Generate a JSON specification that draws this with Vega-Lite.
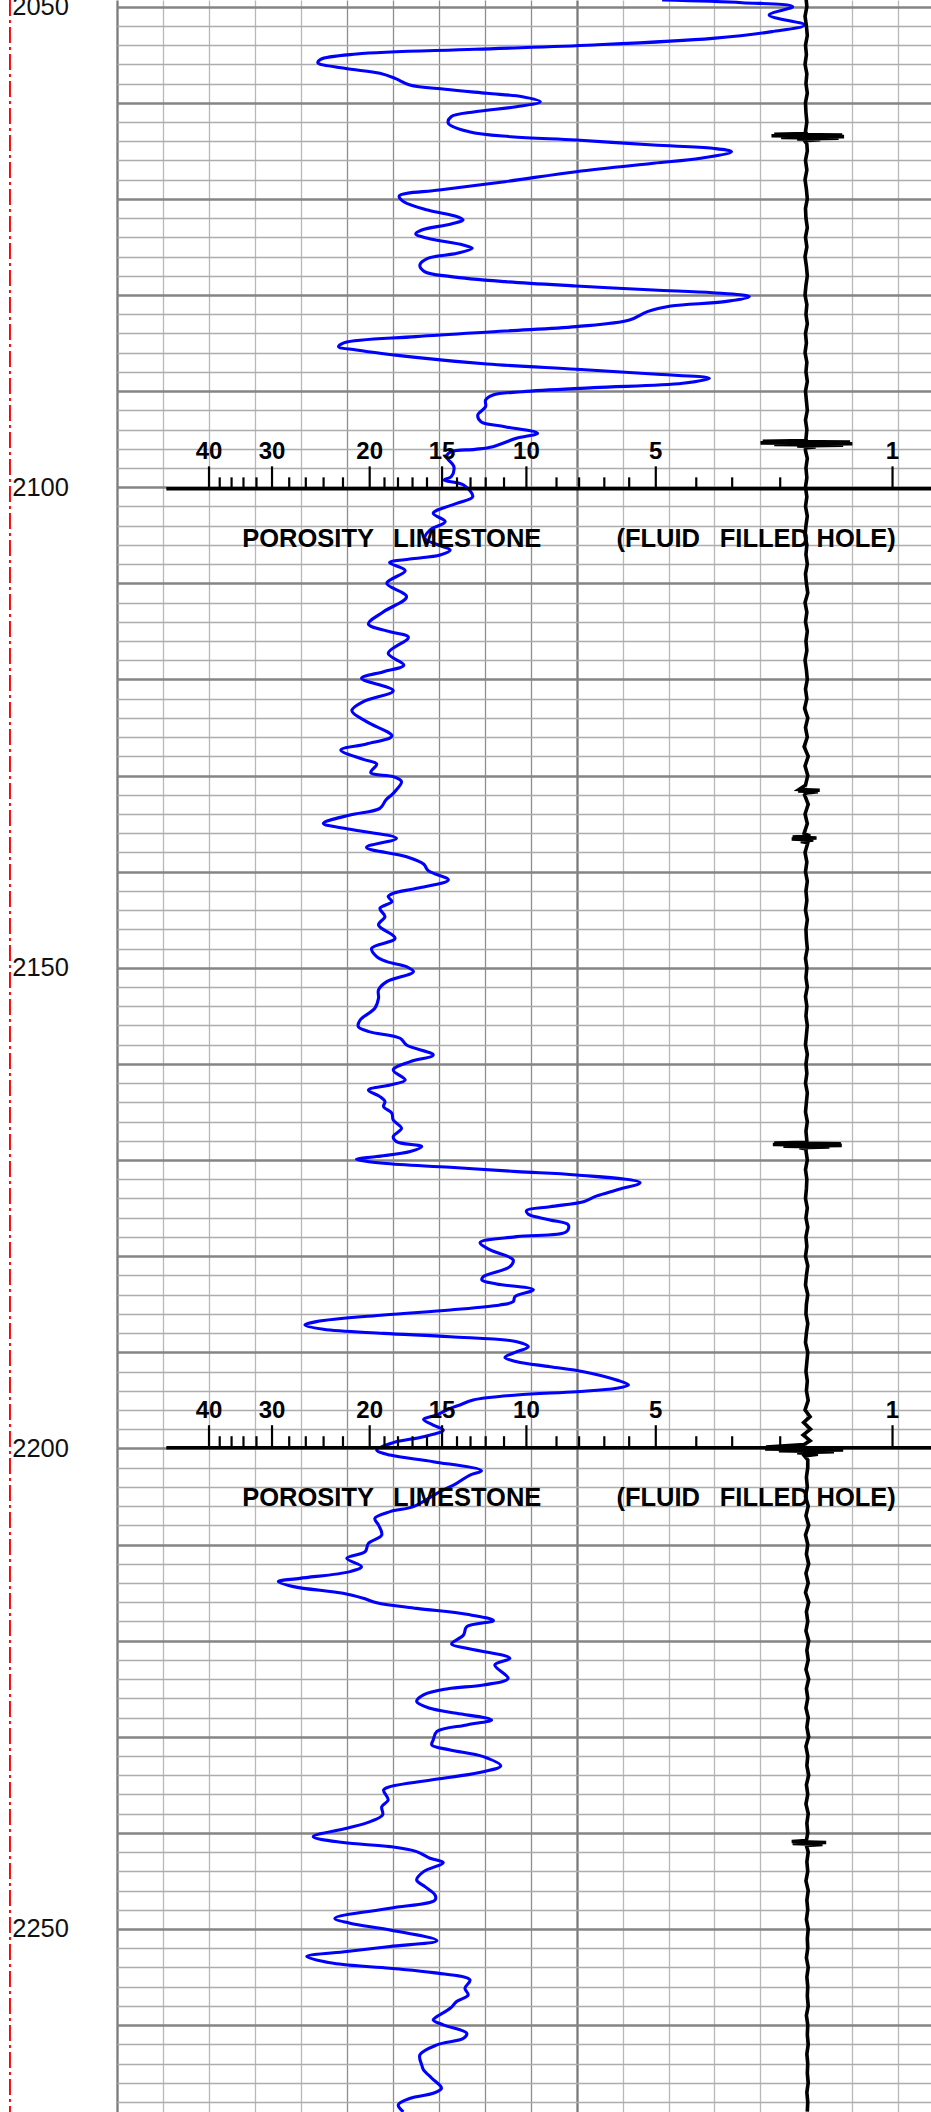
{
"$schema": "https://vega.github.io/schema/vega-lite/v6.json",
"autosize": "none",
"padding": {"left": 117, "top": 0, "right": 0, "bottom": 0},
"width": 814,
"height": 2112,
"background": "white",
"config": {"view": {"stroke": null}},
"datasets": {
"blue": [
{"d":2049.31,"u":11.86},{"d":2049.59,"u":13.60},{"d":2050.00,"u":14.70},{"d":2050.87,"u":14.19},{"d":2051.91,"u":14.96},{"d":2052.60,"u":14.25},{"d":2053.30,"u":12.96},{"d":2053.99,"u":10.37},{"d":2054.44,"u":7.79},{"d":2054.93,"u":5.21},{"d":2055.48,"u":4.43},{"d":2055.83,"u":4.37},{"d":2056.42,"u":4.95},{"d":2056.94,"u":5.72},{"d":2057.46,"u":6.05},{"d":2058.15,"u":6.37},{"d":2058.60,"u":7.14},{"d":2059.02,"u":8.05},{"d":2059.37,"u":8.82},{"d":2059.89,"u":9.21},{"d":2060.41,"u":8.69},{"d":2060.93,"u":7.79},{"d":2061.45,"u":7.27},{"d":2062.14,"u":7.21},{"d":2063.01,"u":7.66},{"d":2063.53,"u":8.57},{"d":2063.88,"u":9.99},{"d":2064.40,"u":11.67},{"d":2064.74,"u":12.96},{"d":2065.09,"u":13.37},{"d":2065.78,"u":12.70},{"d":2066.30,"u":11.67},{"d":2067.17,"u":9.99},{"d":2068.21,"u":8.44},{"d":2069.08,"u":7.01},{"d":2069.70,"u":6.14},{"d":2070.29,"u":6.24},{"d":2071.16,"u":6.76},{"d":2071.85,"u":7.40},{"d":2072.20,"u":7.53},{"d":2072.61,"u":7.27},{"d":2073.24,"u":6.63},{"d":2073.65,"u":6.50},{"d":2074.10,"u":6.76},{"d":2074.80,"u":7.53},{"d":2075.14,"u":7.73},{"d":2075.67,"u":7.40},{"d":2076.19,"u":6.76},{"d":2076.88,"u":6.59},{"d":2077.57,"u":6.69},{"d":2078.09,"u":7.27},{"d":2078.61,"u":8.44},{"d":2079.06,"u":9.99},{"d":2079.48,"u":11.67},{"d":2079.76,"u":12.96},{"d":2080.17,"u":13.76},{"d":2080.69,"u":13.22},{"d":2081.15,"u":12.05},{"d":2081.73,"u":11.54},{"d":2082.60,"u":11.15},{"d":2083.29,"u":9.99},{"d":2083.75,"u":8.44},{"d":2084.33,"u":6.50},{"d":2084.96,"u":4.95},{"d":2085.38,"u":4.82},{"d":2085.72,"u":5.21},{"d":2086.49,"u":6.50},{"d":2087.18,"u":8.05},{"d":2087.73,"u":9.99},{"d":2088.22,"u":11.67},{"d":2088.67,"u":12.89},{"d":2089.19,"u":12.31},{"d":2089.64,"u":10.37},{"d":2090.06,"u":8.82},{"d":2090.40,"u":8.18},{"d":2090.93,"u":8.02},{"d":2091.62,"u":8.02},{"d":2092.49,"u":7.85},{"d":2093.18,"u":7.92},{"d":2093.70,"u":8.44},{"d":2094.39,"u":9.15},{"d":2094.91,"u":8.69},{"d":2095.78,"u":8.18},{"d":2096.06,"u":7.79},{"d":2096.30,"u":7.27},{"d":2096.82,"u":7.17},{"d":2097.86,"u":7.33},{"d":2098.90,"u":7.27},{"d":2099.25,"u":7.12},{"d":2099.77,"u":7.54},{"d":2100.98,"u":7.74},{"d":2101.68,"u":7.39},{"d":2102.72,"u":6.88},{"d":2103.58,"u":7.14},{"d":2104.45,"u":6.81},{"d":2105.32,"u":6.70},{"d":2106.01,"u":6.99},{"d":2106.53,"u":7.25},{"d":2107.05,"u":7.03},{"d":2107.47,"u":6.37},{"d":2107.85,"u":5.93},{"d":2108.68,"u":6.27},{"d":2110.00,"u":5.87},{"d":2111.39,"u":6.30},{"d":2112.95,"u":5.80},{"d":2114.23,"u":5.47},{"d":2115.03,"u":5.94},{"d":2115.62,"u":6.34},{"d":2117.28,"u":5.90},{"d":2118.50,"u":6.24},{"d":2119.19,"u":5.80},{"d":2119.88,"u":5.32},{"d":2121.17,"u":6.01},{"d":2122.31,"u":5.36},{"d":2123.25,"u":5.11},{"d":2124.39,"u":5.43},{"d":2125.88,"u":5.98},{"d":2126.72,"u":5.43},{"d":2127.34,"u":4.87},{"d":2128.31,"u":5.36},{"d":2128.80,"u":5.65},{"d":2129.70,"u":5.52},{"d":2130.11,"u":6.01},{"d":2130.63,"u":6.19},{"d":2131.85,"u":6.01},{"d":2132.54,"u":5.85},{"d":2133.41,"u":5.72},{"d":2134.10,"u":5.07},{"d":2134.97,"u":4.49},{"d":2135.59,"u":5.07},{"d":2136.53,"u":6.08},{"d":2137.47,"u":5.43},{"d":2138.44,"u":6.30},{"d":2139.20,"u":6.67},{"d":2139.89,"u":6.77},{"d":2140.86,"u":7.21},{"d":2141.73,"u":6.52},{"d":2142.25,"u":6.01},{"d":2142.59,"u":5.90},{"d":2143.11,"u":5.98},{"d":2143.81,"u":5.72},{"d":2144.67,"u":5.83},{"d":2145.54,"u":5.69},{"d":2146.93,"u":6.05},{"d":2147.97,"u":5.54},{"d":2148.84,"u":5.65},{"d":2149.36,"u":5.87},{"d":2149.88,"u":6.30},{"d":2150.40,"u":6.45},{"d":2151.44,"u":5.87},{"d":2152.30,"u":5.69},{"d":2153.17,"u":5.69},{"d":2154.21,"u":5.61},{"d":2155.43,"u":5.29},{"d":2156.12,"u":5.25},{"d":2156.64,"u":5.48},{"d":2157.33,"u":6.16},{"d":2158.03,"u":6.30},{"d":2159.07,"u":6.88},{"d":2159.76,"u":6.38},{"d":2160.63,"u":6.01},{"d":2161.67,"u":6.27},{"d":2162.19,"u":5.94},{"d":2162.71,"u":5.47},{"d":2163.40,"u":5.72},{"d":2163.92,"u":5.83},{"d":2164.44,"u":5.80},{"d":2165.13,"u":5.98},{"d":2165.83,"u":6.01},{"d":2166.70,"u":6.19},{"d":2167.56,"u":6.01},{"d":2168.08,"u":6.08},{"d":2168.60,"u":6.63},{"d":2169.12,"u":6.38},{"d":2169.64,"u":5.65},{"d":2169.92,"u":5.21},{"d":2170.34,"u":5.80},{"d":2170.75,"u":7.25},{"d":2171.20,"u":8.70},{"d":2171.55,"u":10.00},{"d":2172.35,"u":11.38},{"d":2173.11,"u":10.87},{"d":2173.73,"u":10.44},{"d":2174.33,"u":10.15},{"d":2174.85,"u":9.42},{"d":2175.26,"u":8.91},{"d":2175.64,"u":8.95},{"d":2176.23,"u":9.42},{"d":2176.75,"u":9.82},{"d":2177.45,"u":9.78},{"d":2177.97,"u":8.70},{"d":2178.59,"u":7.90},{"d":2179.35,"u":8.12},{"d":2180.39,"u":8.62},{"d":2181.09,"u":8.55},{"d":2182.13,"u":7.97},{"d":2182.48,"u":7.94},{"d":2182.89,"u":8.26},{"d":2183.50,"u":9.06},{"d":2184.21,"u":8.66},{"d":2184.73,"u":8.62},{"d":2185.08,"u":8.33},{"d":2185.60,"u":7.25},{"d":2186.12,"u":5.80},{"d":2186.81,"u":4.34},{"d":2187.16,"u":4.09},{"d":2187.61,"u":4.49},{"d":2188.03,"u":5.80},{"d":2188.38,"u":7.25},{"d":2188.90,"u":8.70},{"d":2189.42,"u":8.95},{"d":2189.94,"u":8.70},{"d":2190.53,"u":8.44},{"d":2190.98,"u":8.70},{"d":2191.50,"u":9.42},{"d":2192.02,"u":10.15},{"d":2192.88,"u":10.87},{"d":2193.40,"u":11.13},{"d":2193.75,"u":10.87},{"d":2194.10,"u":10.00},{"d":2194.44,"u":8.70},{"d":2194.96,"u":7.75},{"d":2195.48,"u":7.46},{"d":2195.83,"u":7.25},{"d":2196.52,"u":6.96},{"d":2196.98,"u":6.67},{"d":2197.57,"u":6.88},{"d":2198.09,"u":7.10},{"d":2198.78,"u":6.67},{"d":2199.40,"u":6.01},{"d":2200.17,"u":5.65},{"d":2200.69,"u":5.94},{"d":2201.38,"u":6.88},{"d":2202.32,"u":7.93},{"d":2202.77,"u":7.68},{"d":2203.63,"u":7.39},{"d":2204.67,"u":6.96},{"d":2206.06,"u":6.45},{"d":2206.58,"u":5.94},{"d":2207.28,"u":5.61},{"d":2207.97,"u":5.69},{"d":2209.01,"u":5.76},{"d":2209.88,"u":5.47},{"d":2210.74,"u":5.40},{"d":2211.44,"u":5.00},{"d":2212.30,"u":5.32},{"d":2212.82,"u":5.07},{"d":2213.52,"u":3.98},{"d":2213.86,"u":3.51},{"d":2214.38,"u":3.84},{"d":2215.08,"u":4.92},{"d":2215.60,"u":5.36},{"d":2216.05,"u":5.65},{"d":2216.64,"u":6.52},{"d":2217.26,"u":7.61},{"d":2217.92,"u":8.19},{"d":2218.55,"u":7.61},{"d":2219.41,"u":7.54},{"d":2220.35,"u":7.28},{"d":2220.80,"u":7.61},{"d":2221.84,"u":8.55},{"d":2222.53,"u":8.22},{"d":2223.92,"u":8.51},{"d":2224.61,"u":7.97},{"d":2225.00,"u":7.20},{"d":2225.65,"u":6.67},{"d":2226.34,"u":6.52},{"d":2227.04,"u":6.81},{"d":2227.56,"u":7.39},{"d":2228.25,"u":8.15},{"d":2228.77,"u":7.61},{"d":2229.46,"u":6.96},{"d":2230.33,"u":6.88},{"d":2230.85,"u":6.85},{"d":2231.37,"u":7.25},{"d":2232.07,"u":7.97},{"d":2233.04,"u":8.35},{"d":2233.63,"u":7.97},{"d":2234.22,"u":7.25},{"d":2235.19,"u":5.94},{"d":2235.53,"u":5.80},{"d":2236.57,"u":5.90},{"d":2237.27,"u":5.76},{"d":2238.13,"u":5.78},{"d":2238.83,"u":5.51},{"d":2239.52,"u":5.00},{"d":2240.39,"u":4.27},{"d":2241.01,"u":4.92},{"d":2241.43,"u":5.94},{"d":2241.95,"u":6.52},{"d":2242.64,"u":6.81},{"d":2243.09,"u":7.10},{"d":2244.03,"u":6.67},{"d":2244.90,"u":6.52},{"d":2245.59,"u":6.70},{"d":2246.46,"u":6.92},{"d":2246.98,"u":6.92},{"d":2247.84,"u":5.94},{"d":2248.89,"u":4.74},{"d":2249.40,"u":5.07},{"d":2250.10,"u":5.94},{"d":2251.21,"u":6.96},{"d":2251.83,"u":5.94},{"d":2252.35,"u":5.00},{"d":2252.87,"u":4.13},{"d":2253.57,"u":4.71},{"d":2254.09,"u":5.94},{"d":2254.54,"u":6.88},{"d":2255.30,"u":7.68},{"d":2256.17,"u":7.57},{"d":2256.86,"u":7.64},{"d":2257.55,"u":7.39},{"d":2258.25,"u":7.25},{"d":2259.11,"u":6.96},{"d":2259.46,"u":6.88},{"d":2259.98,"u":7.10},{"d":2260.85,"u":7.61},{"d":2261.37,"u":7.54},{"d":2262.06,"u":6.96},{"d":2263.10,"u":6.59},{"d":2264.14,"u":6.63},{"d":2264.66,"u":6.67},{"d":2265.53,"u":6.85},{"d":2266.57,"u":7.06},{"d":2267.09,"u":6.88},{"d":2267.61,"u":6.38},{"d":2268.30,"u":6.12},{"d":2269.03,"u":6.23}
],
"black": [
{"d":2049,"u":14.99},{"d":2050,"u":15.01},{"d":2051,"u":14.97},{"d":2052,"u":15.00},{"d":2053,"u":15.02},{"d":2054,"u":14.98},{"d":2055,"u":15.00},{"d":2056,"u":14.97},{"d":2057,"u":15.01},{"d":2058,"u":14.99},{"d":2059,"u":15.02},{"d":2060,"u":14.98},{"d":2061,"u":14.99},{"d":2062,"u":15.01},{"d":2063,"u":14.98},{"d":2063.2,"u":15.00},{"d":2063.28,"u":14.30},{"d":2063.36,"u":15.78},{"d":2063.44,"u":14.24},{"d":2063.52,"u":15.82},{"d":2063.6,"u":14.45},{"d":2063.68,"u":15.70},{"d":2063.76,"u":14.80},{"d":2063.85,"u":15.30},{"d":2063.95,"u":14.96},{"d":2064.3,"u":15.01},{"d":2065,"u":15.02},{"d":2066,"u":14.98},{"d":2067,"u":15.01},{"d":2068,"u":14.97},{"d":2069,"u":15.00},{"d":2070,"u":15.02},{"d":2071,"u":14.98},{"d":2072,"u":14.99},{"d":2073,"u":15.02},{"d":2074,"u":14.98},{"d":2075,"u":15.01},{"d":2076,"u":14.97},{"d":2077,"u":15.00},{"d":2078,"u":15.02},{"d":2079,"u":14.99},{"d":2080,"u":14.97},{"d":2081,"u":15.01},{"d":2082,"u":14.99},{"d":2083,"u":15.02},{"d":2084,"u":14.98},{"d":2085,"u":15.00},{"d":2086,"u":14.97},{"d":2087,"u":15.01},{"d":2088,"u":14.99},{"d":2089,"u":15.02},{"d":2090,"u":14.98},{"d":2091,"u":15.00},{"d":2092,"u":15.02},{"d":2093,"u":14.98},{"d":2094,"u":15.01},{"d":2095,"u":14.99},{"d":2095.15,"u":15.00},{"d":2095.23,"u":14.05},{"d":2095.31,"u":15.95},{"d":2095.39,"u":14.00},{"d":2095.47,"u":16.00},{"d":2095.55,"u":14.30},{"d":2095.63,"u":15.80},{"d":2095.71,"u":14.80},{"d":2095.8,"u":15.20},{"d":2095.9,"u":14.98},{"d":2096.2,"u":14.98},{"d":2097,"u":15.02},{"d":2098,"u":14.99},{"d":2099,"u":15.01},{"d":2100,"u":14.98},{"d":2101,"u":15.01},{"d":2102,"u":14.98},{"d":2103,"u":15.02},{"d":2104,"u":14.99},{"d":2105,"u":14.97},{"d":2106,"u":15.01},{"d":2107,"u":14.99},{"d":2108,"u":15.02},{"d":2109,"u":14.98},{"d":2110,"u":15.00},{"d":2111,"u":15.03},{"d":2112,"u":14.97},{"d":2113,"u":15.01},{"d":2114,"u":14.98},{"d":2115,"u":15.02},{"d":2116,"u":14.99},{"d":2117,"u":15.01},{"d":2118,"u":14.97},{"d":2119,"u":15.00},{"d":2120,"u":15.02},{"d":2121,"u":14.98},{"d":2122,"u":15.01},{"d":2123,"u":14.96},{"d":2124,"u":15.03},{"d":2125,"u":14.98},{"d":2126,"u":15.02},{"d":2127,"u":14.95},{"d":2128,"u":15.04},{"d":2129,"u":14.97},{"d":2130,"u":15.03},{"d":2131,"u":14.98},{"d":2131.45,"u":14.84},{"d":2131.53,"u":15.29},{"d":2131.61,"u":14.82},{"d":2131.69,"u":15.25},{"d":2131.8,"u":15.00},{"d":2132,"u":14.96},{"d":2133,"u":15.04},{"d":2134,"u":14.97},{"d":2135,"u":15.02},{"d":2136,"u":14.95},{"d":2136.3,"u":15.08},{"d":2136.4,"u":14.70},{"d":2136.5,"u":15.22},{"d":2136.6,"u":14.68},{"d":2136.7,"u":15.15},{"d":2136.85,"u":14.88},{"d":2137,"u":15.03},{"d":2138,"u":14.97},{"d":2139,"u":15.01},{"d":2140,"u":14.98},{"d":2141,"u":15.02},{"d":2142,"u":14.99},{"d":2143,"u":15.01},{"d":2144,"u":14.98},{"d":2145,"u":15.02},{"d":2146,"u":14.99},{"d":2147,"u":15.00},{"d":2148,"u":15.02},{"d":2149,"u":14.98},{"d":2150,"u":15.01},{"d":2151,"u":14.99},{"d":2152,"u":15.02},{"d":2153,"u":14.98},{"d":2154,"u":15.01},{"d":2155,"u":14.99},{"d":2156,"u":15.02},{"d":2157,"u":15.00},{"d":2158,"u":14.98},{"d":2159,"u":15.02},{"d":2160,"u":14.99},{"d":2161,"u":15.01},{"d":2162,"u":14.98},{"d":2163,"u":15.02},{"d":2164,"u":15.00},{"d":2165,"u":14.98},{"d":2166,"u":15.02},{"d":2167,"u":14.99},{"d":2168,"u":15.01},{"d":2168.15,"u":15.00},{"d":2168.23,"u":14.30},{"d":2168.31,"u":15.75},{"d":2168.39,"u":14.27},{"d":2168.47,"u":15.77},{"d":2168.55,"u":14.50},{"d":2168.63,"u":15.50},{"d":2168.72,"u":14.85},{"d":2168.85,"u":15.00},{"d":2169,"u":14.99},{"d":2170,"u":15.02},{"d":2171,"u":14.98},{"d":2172,"u":15.01},{"d":2173,"u":15.00},{"d":2174,"u":14.98},{"d":2175,"u":15.02},{"d":2176,"u":14.99},{"d":2177,"u":15.03},{"d":2178,"u":14.99},{"d":2179,"u":15.01},{"d":2180,"u":14.98},{"d":2181,"u":15.03},{"d":2182,"u":15.00},{"d":2183,"u":14.98},{"d":2184,"u":15.03},{"d":2185,"u":15.00},{"d":2186,"u":14.99},{"d":2187,"u":15.03},{"d":2188,"u":15.00},{"d":2189,"u":14.98},{"d":2190,"u":15.03},{"d":2191,"u":15.01},{"d":2192,"u":14.99},{"d":2193,"u":15.02},{"d":2194,"u":15.00},{"d":2195,"u":15.04},{"d":2196,"u":14.97},{"d":2196.7,"u":15.08},{"d":2197.3,"u":14.94},{"d":2198,"u":15.09},{"d":2198.6,"u":14.93},{"d":2199.2,"u":15.08},{"d":2199.6,"u":14.95},{"d":2199.85,"u":14.12},{"d":2199.95,"u":15.78},{"d":2200.05,"u":14.10},{"d":2200.15,"u":15.80},{"d":2200.25,"u":14.40},{"d":2200.35,"u":15.60},{"d":2200.45,"u":14.80},{"d":2200.6,"u":15.25},{"d":2200.8,"u":14.96},{"d":2201.2,"u":15.03},{"d":2202,"u":15.03},{"d":2203,"u":15.00},{"d":2204,"u":15.02},{"d":2205,"u":14.98},{"d":2206,"u":15.04},{"d":2207,"u":14.99},{"d":2208,"u":15.05},{"d":2209,"u":14.98},{"d":2210,"u":15.03},{"d":2211,"u":15.00},{"d":2212,"u":15.05},{"d":2213,"u":14.99},{"d":2214,"u":15.04},{"d":2215,"u":14.98},{"d":2216,"u":15.05},{"d":2217,"u":15.00},{"d":2218,"u":15.03},{"d":2219,"u":14.99},{"d":2220,"u":15.05},{"d":2221,"u":15.01},{"d":2222,"u":15.04},{"d":2223,"u":14.99},{"d":2224,"u":15.05},{"d":2225,"u":15.00},{"d":2226,"u":15.03},{"d":2227,"u":14.99},{"d":2228,"u":15.04},{"d":2229,"u":15.01},{"d":2230,"u":15.05},{"d":2231,"u":14.99},{"d":2232,"u":15.03},{"d":2233,"u":15.01},{"d":2234,"u":15.05},{"d":2235,"u":15.00},{"d":2236,"u":15.03},{"d":2237,"u":14.99},{"d":2238,"u":15.04},{"d":2239,"u":15.01},{"d":2240,"u":15.03},{"d":2240.8,"u":15.00},{"d":2240.9,"u":14.68},{"d":2241.0,"u":15.43},{"d":2241.1,"u":14.70},{"d":2241.2,"u":15.35},{"d":2241.32,"u":15.00},{"d":2242,"u":15.04},{"d":2243,"u":15.01},{"d":2244,"u":15.03},{"d":2245,"u":14.99},{"d":2246,"u":15.04},{"d":2247,"u":15.01},{"d":2248,"u":15.03},{"d":2249,"u":15.00},{"d":2250,"u":15.04},{"d":2251,"u":15.02},{"d":2252,"u":15.03},{"d":2253,"u":15.00},{"d":2254,"u":15.04},{"d":2255,"u":15.01},{"d":2256,"u":15.03},{"d":2257,"u":15.02},{"d":2258,"u":15.04},{"d":2259,"u":15.00},{"d":2260,"u":15.03},{"d":2261,"u":15.02},{"d":2262,"u":15.04},{"d":2263,"u":15.01},{"d":2264,"u":15.03},{"d":2265,"u":15.02},{"d":2266,"u":15.04},{"d":2267,"u":15.01},{"d":2268,"u":15.03},{"d":2269,"u":15.02}
],
"scales": [{"s":2100.17},{"s":2199.93}],
"ticks": [
{"s":2100.17,"u":2.002,"k":"M","lab":"40"},{"s":2100.17,"u":2.235,"k":"m"},{"s":2100.17,"u":2.493,"k":"m"},{"s":2100.17,"u":2.752,"k":"m"},{"s":2100.17,"u":3.035,"k":"m"},
{"s":2100.17,"u":3.373,"k":"M","lab":"30"},{"s":2100.17,"u":3.747,"k":"m"},{"s":2100.17,"u":4.108,"k":"m"},{"s":2100.17,"u":4.495,"k":"m"},{"s":2100.17,"u":4.917,"k":"m"},
{"s":2100.17,"u":5.498,"k":"M","lab":"20"},{"s":2100.17,"u":5.820,"k":"m"},{"s":2100.17,"u":6.114,"k":"m"},{"s":2100.17,"u":6.430,"k":"m"},{"s":2100.17,"u":6.745,"k":"m"},
{"s":2100.17,"u":7.073,"k":"M","lab":"15"},{"s":2100.17,"u":7.398,"k":"m"},{"s":2100.17,"u":7.692,"k":"m"},{"s":2100.17,"u":8.022,"k":"m"},{"s":2100.17,"u":8.421,"k":"m"},
{"s":2100.17,"u":8.908,"k":"M","lab":"10"},{"s":2100.17,"u":9.563,"k":"m"},{"s":2100.17,"u":10.054,"k":"m"},{"s":2100.17,"u":10.603,"k":"m"},{"s":2100.17,"u":11.144,"k":"m"},
{"s":2100.17,"u":11.723,"k":"M","lab":"5"},{"s":2100.17,"u":12.604,"k":"m"},{"s":2100.17,"u":13.385,"k":"m"},{"s":2100.17,"u":14.430,"k":"m"},
{"s":2100.17,"u":16.874,"k":"M","lab":"1"},
{"s":2199.93,"u":2.002,"k":"M","lab":"40"},{"s":2199.93,"u":2.235,"k":"m"},{"s":2199.93,"u":2.493,"k":"m"},{"s":2199.93,"u":2.752,"k":"m"},{"s":2199.93,"u":3.035,"k":"m"},
{"s":2199.93,"u":3.373,"k":"M","lab":"30"},{"s":2199.93,"u":3.747,"k":"m"},{"s":2199.93,"u":4.108,"k":"m"},{"s":2199.93,"u":4.495,"k":"m"},{"s":2199.93,"u":4.917,"k":"m"},
{"s":2199.93,"u":5.498,"k":"M","lab":"20"},{"s":2199.93,"u":5.820,"k":"m"},{"s":2199.93,"u":6.114,"k":"m"},{"s":2199.93,"u":6.430,"k":"m"},{"s":2199.93,"u":6.745,"k":"m"},
{"s":2199.93,"u":7.073,"k":"M","lab":"15"},{"s":2199.93,"u":7.398,"k":"m"},{"s":2199.93,"u":7.692,"k":"m"},{"s":2199.93,"u":8.022,"k":"m"},{"s":2199.93,"u":8.421,"k":"m"},
{"s":2199.93,"u":8.908,"k":"M","lab":"10"},{"s":2199.93,"u":9.563,"k":"m"},{"s":2199.93,"u":10.054,"k":"m"},{"s":2199.93,"u":10.603,"k":"m"},{"s":2199.93,"u":11.144,"k":"m"},
{"s":2199.93,"u":11.723,"k":"M","lab":"5"},{"s":2199.93,"u":12.604,"k":"m"},{"s":2199.93,"u":13.385,"k":"m"},{"s":2199.93,"u":14.430,"k":"m"},
{"s":2199.93,"u":16.874,"k":"M","lab":"1"}
],
"words": [
{"s":2100.17,"u":2.725,"w":"POROSITY"},{"s":2100.17,"u":6.007,"w":"LIMESTONE"},{"s":2100.17,"u":10.866,"w":"(FLUID"},{"s":2100.17,"u":13.114,"w":"FILLED"},{"s":2100.17,"u":15.220,"w":"HOLE)"},
{"s":2199.93,"u":2.725,"w":"POROSITY"},{"s":2199.93,"u":6.007,"w":"LIMESTONE"},{"s":2199.93,"u":10.866,"w":"(FLUID"},{"s":2199.93,"u":13.114,"w":"FILLED"},{"s":2199.93,"u":15.220,"w":"HOLE)"}
]
},
"layer": [
{
"data": {"name": "blue"},
"mark": {"type": "line", "color": "#0000ff", "strokeWidth": 3.1, "interpolate": "catmull-rom"},
"encoding": {
"x": {"field": "u", "type": "quantitative",
"scale": {"domain": [0, 17.711], "nice": false, "zero": false},
"axis": {"title": null, "tickCount": 100, "values": [0,1,2,3,4,5,6,7,8,9,10,11,12,13,14,15,16,17], "labels": false, "ticks": false, "domain": false, "grid": true,
"gridColor": {"condition": [{"test": "datum.value === 0 || datum.value === 10", "value": "#7a7a7a"}, {"test": "datum.value >= 5 && datum.value <= 9", "value": "#8e8e8e"}], "value": "#b8b8b8"},
"gridWidth": {"condition": {"test": "datum.value === 0 || datum.value === 10", "value": 2.3}, "value": 1.3}}},
"y": {"field": "d", "type": "quantitative",
"scale": {"domain": [2049.31, 2269.04], "reverse": true, "nice": false, "zero": false},
"axis": {"title": null, "tickCount": 500, "values": [2050,2052,2054,2056,2058,2060,2062,2064,2066,2068,2070,2072,2074,2076,2078,2080,2082,2084,2086,2088,2090,2092,2094,2096,2098,2100,2102,2104,2106,2108,2110,2112,2114,2116,2118,2120,2122,2124,2126,2128,2130,2132,2134,2136,2138,2140,2142,2144,2146,2148,2150,2152,2154,2156,2158,2160,2162,2164,2166,2168,2170,2172,2174,2176,2178,2180,2182,2184,2186,2188,2190,2192,2194,2196,2198,2200,2202,2204,2206,2208,2210,2212,2214,2216,2218,2220,2222,2224,2226,2228,2230,2232,2234,2236,2238,2240,2242,2244,2246,2248,2250,2252,2254,2256,2258,2260,2262,2264,2266,2268],
"format": "d", "labelExpr": "datum.value % 50 === 0 ? datum.label : ''",
"ticks": false, "tickSize": 0, "domain": false, "grid": true,
"labelAlign": "left", "labelBaseline": "middle", "labelPadding": 105.3, "labelFont": "Liberation Sans", "labelFontSize": 25.5, "labelColor": "#111111", "labelOverlap": false,
"gridColor": {"condition": {"test": "datum.value % 10 === 0", "value": "#858585"}, "value": "#adadad"},
"gridWidth": {"condition": {"test": "datum.value % 10 === 0", "value": 2.3}, "value": 1.4}}},
"order": {"field": "d", "type": "quantitative"}
}
},
{
"data": {"name": "scales"},
"mark": {"type": "rule", "color": "#ff0000", "strokeWidth": 1.6, "strokeDash": [16, 4, 3, 4]},
"encoding": {
"x": {"datum": -2.33, "type": "quantitative", "axis": {"title": null}}
}
},
{
"data": {"name": "scales"},
"mark": {"type": "rule", "color": "#000000", "strokeWidth": 3.5},
"encoding": {
"x": {"datum": 1.073, "type": "quantitative", "axis": {"title": null}},
"x2": {"datum": 17.9},
"y": {"field": "s", "type": "quantitative", "axis": {"title": null}}
}
},
{
"data": {"name": "ticks"},
"transform": [{"filter": "datum.k === 'M'"}],
"mark": {"type": "rule", "color": "#000000", "strokeWidth": 2.2, "y2Offset": -22.5},
"encoding": {
"x": {"field": "u", "type": "quantitative", "axis": {"title": null}},
"y": {"field": "s", "type": "quantitative", "axis": {"title": null}},
"y2": {"field": "s"}
}
},
{
"data": {"name": "ticks"},
"transform": [{"filter": "datum.k === 'm'"}],
"mark": {"type": "rule", "color": "#000000", "strokeWidth": 2.2, "y2Offset": -11.5},
"encoding": {
"x": {"field": "u", "type": "quantitative", "axis": {"title": null}},
"y": {"field": "s", "type": "quantitative", "axis": {"title": null}},
"y2": {"field": "s"}
}
},
{
"data": {"name": "ticks"},
"transform": [{"filter": "datum.k === 'M'"}],
"mark": {"type": "text", "font": "Liberation Sans", "fontWeight": "bold", "fontSize": 24, "align": "center", "baseline": "alphabetic", "dy": -30, "color": "#000000"},
"encoding": {
"x": {"field": "u", "type": "quantitative", "axis": {"title": null}},
"y": {"field": "s", "type": "quantitative", "axis": {"title": null}},
"text": {"field": "lab"}
}
},
{
"data": {"name": "words"},
"mark": {"type": "text", "font": "Liberation Sans", "fontWeight": "bold", "fontSize": 25.5, "align": "left", "baseline": "alphabetic", "dy": 57.8, "color": "#000000"},
"encoding": {
"x": {"field": "u", "type": "quantitative", "axis": {"title": null}},
"y": {"field": "s", "type": "quantitative", "axis": {"title": null}},
"text": {"field": "w"}
}
},
{
"data": {"name": "black"},
"mark": {"type": "line", "color": "#000000", "strokeWidth": 3.6, "interpolate": "linear"},
"encoding": {
"x": {"field": "u", "type": "quantitative", "axis": {"title": null}},
"y": {"field": "d", "type": "quantitative", "axis": {"title": null}},
"order": {"field": "d", "type": "quantitative"}
}
}
]
}
